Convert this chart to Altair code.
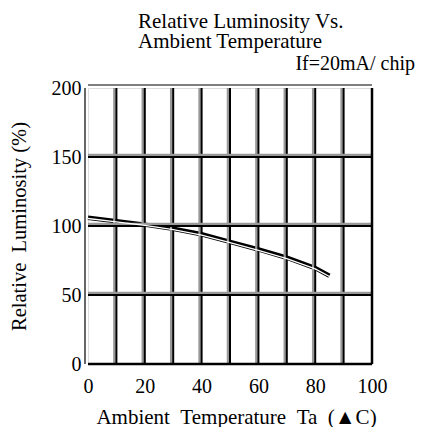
import altair as alt
import pandas as pd

# data
temps = [0, 10, 20, 30, 40, 50, 60, 70, 80, 85]
lum = [106, 103.5, 101, 98, 94, 88.5, 83, 77, 69.5, 64]

x_grid = [10, 20, 30, 40, 50, 60, 70, 80, 90]
y_grid = [50, 100, 150]
x_ticks = [0, 20, 40, 60, 80, 100]
y_ticks = [0, 50, 100, 150, 200]

NB = "\u00a0"
title_lines = ["Relative Luminosity Vs.", "Ambient Temperature"]
note = ["If=20mA/ chip"]
x_title = "Ambient" + NB * 2 + "Temperature" + NB * 2 + "Ta" + NB * 2 + "(\u25b2C)"
y_title = "Relative" + NB * 2 + "Luminosity (%)"

FONT = "Liberation Serif"

curve = pd.DataFrame({"t": temps, "l": lum})
xg = pd.DataFrame({"t": x_grid})
yg = pd.DataFrame({"l": y_grid})

xs = alt.Scale(domain=[0, 100], nice=False)
ys = alt.Scale(domain=[0, 200], nice=False)

x_axis = alt.Axis(
    values=x_ticks, title=x_title, grid=False, ticks=False, tickSize=0, domain=False,
    labelFlush=False, labelOverlap=False,
    labelFont=FONT, labelFontSize=20, labelColor="black", labelBaseline="alphabetic",
    labelPadding=28, titleFont=FONT, titleFontSize=21, titleFontWeight="normal",
    titleColor="black", titleX=148, titleY=59, titleBaseline="alphabetic")
y_axis = alt.Axis(
    values=y_ticks, title=y_title, grid=False, ticks=False, tickSize=0, domain=False,
    labelFlush=False, labelOverlap=False,
    labelFont=FONT, labelFontSize=20, labelColor="black", labelPadding=7,
    titleFont=FONT, titleFontSize=20.5, titleFontWeight="normal", titleColor="black",
    titleX=-69, titleY=138, titleAngle=-90, titleBaseline="middle", titleAlign="center")

XA = lambda: alt.X("t:Q", scale=xs, axis=x_axis)
YA = lambda: alt.Y("l:Q", scale=ys, axis=y_axis)

base = alt.Chart(curve)

vg_gray = alt.Chart(xg).mark_rule(color="#999999", strokeWidth=2.5, xOffset=-2).encode(x=XA())
vg_black = alt.Chart(xg).mark_rule(color="black", strokeWidth=2).encode(x=XA())
hg_gray = alt.Chart(yg).mark_rule(color="#999999", strokeWidth=2.5, yOffset=-2).encode(y=YA())
hg_black = alt.Chart(yg).mark_rule(color="black", strokeWidth=2).encode(y=YA())

outer_left = alt.Chart(pd.DataFrame({"t": [0]})).mark_rule(
    color="black", strokeWidth=1.2, xOffset=-3).encode(x=XA())
outer_top = alt.Chart(pd.DataFrame({"l": [200]})).mark_rule(
    color="black", strokeWidth=1.2, yOffset=-3).encode(y=YA())
bottom = alt.Chart(pd.DataFrame({"l": [0]})).mark_rule(
    color="black", strokeWidth=2.5).encode(y=YA())
right = alt.Chart(pd.DataFrame({"t": [100]})).mark_rule(
    color="black", strokeWidth=2.5).encode(x=XA())

line_black = base.mark_line(color="black", strokeWidth=4.5).encode(x=XA(), y=YA())
line_white = base.mark_line(color="white", strokeWidth=1.3, yOffset=0.8).encode(
    x=XA(), y=YA())

note_layer = alt.Chart(pd.DataFrame({"txt": note})).mark_text(
    align="right", baseline="alphabetic", font=FONT, fontSize=20, color="black").encode(
    x=alt.value(327), y=alt.value(-18), text="txt:N")

title_layer = alt.Chart(pd.DataFrame({"k": [0]})).mark_text(
    align="left", baseline="alphabetic", font=FONT, fontSize=21, color="black",
    lineHeight=19.5, text=title_lines).encode(
    x=alt.value(50), y=alt.value(-60))

chart = alt.layer(
    line_black, vg_gray, vg_black, hg_gray, hg_black,
    outer_left, outer_top, bottom, right,
    line_white, note_layer, title_layer
).properties(
    width=284, height=276,
    autosize=alt.AutoSizeParams(type="none"),
    padding={"left": 80, "top": 80, "right": 44, "bottom": 63},
).configure_view(stroke="black", strokeWidth=1.5).configure_axis(
    labelFont=FONT, titleFont=FONT
).configure(background="white", font=FONT)

chart.save("out.html", embed_options={"renderer": "svg", "actions": False})
